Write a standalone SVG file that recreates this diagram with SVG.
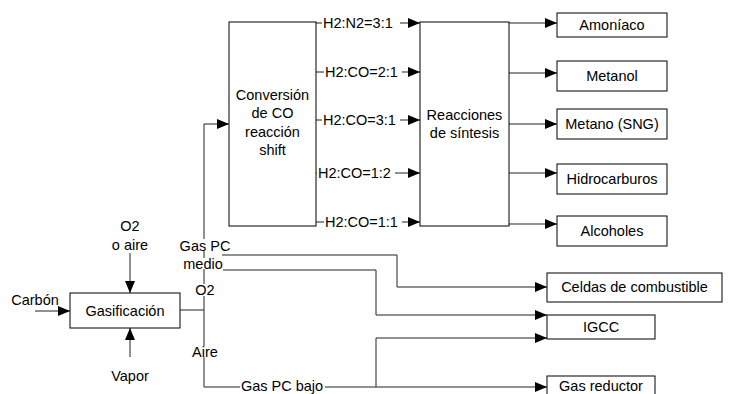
<svg xmlns="http://www.w3.org/2000/svg" width="736" height="394" viewBox="0 0 736 394">
<defs>
<marker id="ah" markerUnits="userSpaceOnUse" markerWidth="13" markerHeight="12" refX="12" refY="5" orient="auto">
<path d="M0,0 L12,5 L0,10 Z" fill="#000"/>
</marker>
<style>
.box{fill:#fff;stroke:#000;stroke-width:1}
.ln{fill:none;stroke:#222;stroke-width:1}
.ar{fill:none;stroke:#222;stroke-width:1;marker-end:url(#ah)}
.bg{fill:#fff;stroke:none}
text{font-family:"Liberation Sans",Arial,sans-serif;font-size:14.5px;fill:#000;text-anchor:middle}
.st{text-anchor:start}
</style>
</defs>
<rect width="736" height="394" fill="#fff"/>
<g id="connectors">
<path class="ar" d="M35,311 H70"/>
<path class="ar" d="M130,253 V293"/>
<path class="ar" d="M130,357 V328"/>
<path class="ln" d="M180,310 H204"/>
<path class="ar" d="M204,387 V124 H229"/>
<path class="ar" d="M316,23 H420"/>
<path class="ar" d="M316,72 H420"/>
<path class="ar" d="M316,120 H420"/>
<path class="ar" d="M316,173 H420"/>
<path class="ar" d="M316,222 H420"/>
<path class="ar" d="M509,23 H557"/>
<path class="ar" d="M509,73 H557"/>
<path class="ar" d="M509,124 H557"/>
<path class="ar" d="M509,173 H557"/>
<path class="ar" d="M509,224 H557"/>
<path class="ar" d="M222,255 H397 V287 H547"/>
<path class="ar" d="M223,270 H376 V315 H547"/>
<path class="ar" d="M204,387 H547"/>
<path class="ar" d="M376,387 V338 H547"/>
<rect class="bg" x="322" y="16" width="78" height="14"/>
<rect class="bg" x="324" y="65" width="78" height="14"/>
<rect class="bg" x="322" y="113" width="78" height="14"/>
<rect class="bg" x="317" y="166" width="78" height="14"/>
<rect class="bg" x="324" y="215" width="78" height="14"/>
<rect class="bg" x="185" y="239" width="40" height="12"/>
<rect class="bg" x="190" y="258" width="28" height="11"/>
<rect class="bg" x="195" y="284" width="20" height="12"/>
<rect class="bg" x="195" y="346" width="20" height="11"/>
<rect class="bg" x="240" y="380" width="85" height="12"/>
<text class="st" x="323" y="28">H2:N2=3:1</text>
<text class="st" x="325" y="77">H2:CO=2:1</text>
<text class="st" x="323" y="125">H2:CO=3:1</text>
<text class="st" x="318" y="178">H2:CO=1:2</text>
<text class="st" x="325" y="227">H2:CO=1:1</text>
<text x="205" y="251">Gas PC</text>
<text x="203" y="269">medio</text>
<text x="205" y="295">O2</text>
<text x="205" y="357">Aire</text>
<text x="282" y="391">Gas PC bajo</text>
<text x="35" y="305">Carbón</text>
<text x="130" y="231">O2</text>
<text x="130" y="250">o aire</text>
<text x="130" y="381">Vapor</text>
</g>
<g id="gasificacion">
<rect class="box" x="70" y="293" width="110" height="35"/>
<text x="125" y="316">Gasificación</text>
</g>
<g id="conversion">
<rect class="box" x="229" y="22" width="87" height="204"/>
<text x="272.5" y="100">Conversión</text>
<text x="272.5" y="118">de CO</text>
<text x="272.5" y="137">reacción</text>
<text x="272.5" y="155">shift</text>
</g>
<g id="reacciones">
<rect class="box" x="420" y="22" width="89" height="204"/>
<text x="464.5" y="120">Reacciones</text>
<text x="464.5" y="138">de síntesis</text>
</g>
<g id="amoniaco">
<rect class="box" x="557" y="13" width="110" height="24"/>
<text x="612" y="30">Amoníaco</text>
</g>
<g id="metanol">
<rect class="box" x="557" y="61" width="110" height="30"/>
<text x="612" y="81">Metanol</text>
</g>
<g id="metano">
<rect class="box" x="557" y="109" width="110" height="30"/>
<text x="612" y="129">Metano (SNG)</text>
</g>
<g id="hidrocarburos">
<rect class="box" x="557" y="164" width="110" height="30"/>
<text x="612" y="184">Hidrocarburos</text>
</g>
<g id="alcoholes">
<rect class="box" x="557" y="216" width="110" height="30"/>
<text x="612" y="236">Alcoholes</text>
</g>
<g id="celdas">
<rect class="box" x="547" y="273" width="175" height="29"/>
<text x="634.5" y="292">Celdas de combustible</text>
</g>
<g id="igcc">
<rect class="box" x="547" y="315" width="108" height="24"/>
<text x="601" y="332">IGCC</text>
</g>
<g id="gasreductor">
<rect class="box" x="547" y="376" width="108" height="26"/>
<text x="601" y="391">Gas reductor</text>
</g>
</svg>
